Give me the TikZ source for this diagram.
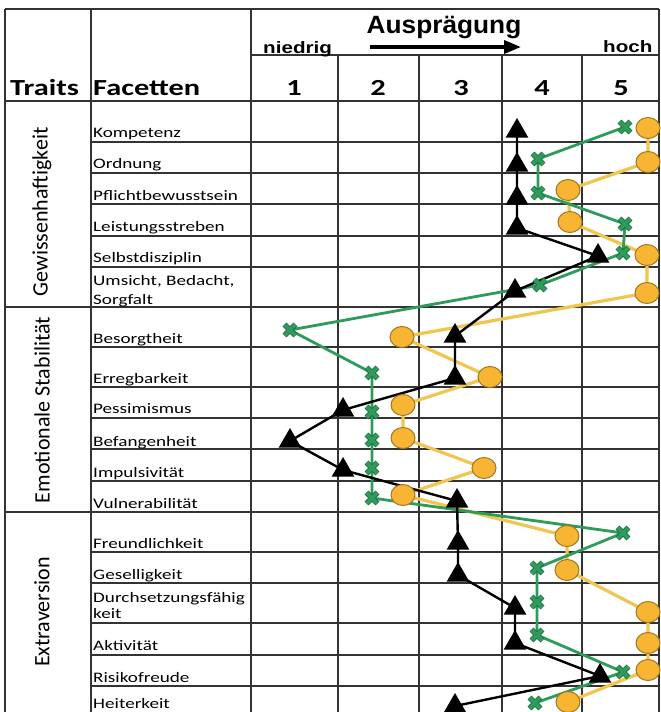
\documentclass[tikz,border=0pt]{standalone}
\usepackage{fontspec}
\setmainfont{Carlito}[FakeStretch=1.32]
\newfontfamily\traitfont{Carlito}
\newfontfamily\arialfont{Liberation Sans}[FakeStretch=1.25]
\newfontfamily\arialwide{Liberation Sans}[FakeStretch=1.05]
\usetikzlibrary{shapes.geometric,shapes.misc,arrows.meta}
\definecolor{gridgray}{HTML}{333333}
\definecolor{profgreen}{HTML}{2E9B5B}
\definecolor{profgreendark}{HTML}{1F6E40}
\definecolor{profyellow}{HTML}{F8B433}
\definecolor{profyellowline}{HTML}{F0C550}
\definecolor{profyellowdark}{HTML}{A07820}
\tikzset{
  gridline/.style={gridgray, line width=1.4pt},
  facet/.style={anchor=base west, inner sep=0pt, font=\fontsize{14.5}{17}\selectfont},
  trait/.style={rotate=90, inner sep=0pt, font=\traitfont\fontsize{22}{26}\selectfont},
  headtext/.style={inner sep=0pt, font=\bfseries\fontsize{23}{27}\selectfont},
  scaletext/.style={anchor=base west, inner sep=0pt, font=\arialfont\bfseries\fontsize{16.5}{19}\selectfont},
  tri/.style={regular polygon, regular polygon sides=3, fill=black, inner sep=0pt, minimum size=26pt},
  dot/.style={ellipse, draw=profyellowdark, fill=profyellow, line width=1pt, inner sep=0pt, minimum width=24pt, minimum height=21pt},
  xmark/.style={cross out, draw=profgreendark, double=profgreen, double distance=3.6pt, line width=0.9pt, inner sep=0pt, minimum size=10pt}
}
\begin{document}
\begin{tikzpicture}[x=1pt, y=-1pt]
  \useasboundingbox[fill=white] (0,0) rectangle (661,712);

  \draw[gridline] (5,9) -- (659,9);
  \draw[gridline] (251,55) -- (659,55);
  \draw[gridline] (5,101) -- (659,101);
  \draw[gridline] (5,307) -- (659,307);
  \draw[gridline] (5,512) -- (659,512);
  \foreach \y in {142,173,204,236,267,347,387,418,449,481,552,583,623,655,686}
    \draw[gridline] (91,\y) -- (659,\y);
  \foreach \x in {5,91,251,659}
    \draw[gridline] (\x,9) -- (\x,720);
  \foreach \x in {338,419,502,582}
    \draw[gridline] (\x,55) -- (\x,720);

  \node[headtext, anchor=base west] (traits) at (10,95) {Traits};
  \node[headtext, anchor=base west] (facetten) at (93,95) {Facetten};
  \foreach \x [count=\n] in {294,378,461,542,621}
    \node[headtext, anchor=base] (lvl\n) at (\x,95) {\n};
  \node[scaletext] (niedrig) at (263,53) {niedrig};
  \node[scaletext] (hoch) at (603,52) {hoch};
  \node[inner sep=0pt, anchor=base, font=\arialwide\bfseries\fontsize{25}{30}\selectfont] (auspraegung) at (444,33) {Ausprägung};
  \coordinate (arrowstart) at (370,47);
  \coordinate (arrowend) at (521,47);
  \draw[-{Triangle[length=17pt,width=13pt]}, line width=3.5pt] (arrowstart) -- (arrowend);

  \node[trait] (gewissen) at (42,212) {Gewissenhaftigkeit};
  \node[trait] (emostab) at (42,410) {Emotionale Stabilität};
  \node[trait] (extra) at (42,612) {Extraversion};

  \foreach \y/\t [count=\n] in {137/Kompetenz, 168/Ordnung, 200/Pflichtbewusstsein,
      231/Leistungsstreben, 262/Selbstdisziplin, 285/{Umsicht, Bedacht,}, 304/Sorgfalt,
      343/Besorgtheit, 383/Erregbarkeit, 413/Pessimismus, 446/Befangenheit,
      477/Impulsivität, 508/Vulnerabilität, 548/Freundlichkeit, 579/Geselligkeit,
      602/Durchsetzungsfähig, 618/keit, 650/Aktivität, 682/Risikofreude, 708/Heiterkeit}
    \node[facet] (f\n) at (93,\y) {\t};

  \foreach \x/\y [count=\n] in {648/128, 648/162, 568/190, 570/222, 647/255, 647/293,
      402/337, 490/377, 403/405, 403/438, 484/468, 403/495,
      567/536, 567/570, 648/612, 648/643, 648/670, 568/702}
    \coordinate (c\n) at (\x,\y);
  \foreach \x/\y [count=\n] in {625/127, 538/159, 538/193, 625/224, 623/253, 540/285,
      290/330, 372/373, 372/412, 372/440, 372/468, 372/498,
      623/533, 537/568, 537/602, 537/635, 623/672, 535/703}
    \coordinate (x\n) at (\x,\y);
  \foreach \x/\y [count=\n] in {517/131, 517/165, 517/198, 517/228, 598/256, 515/291,
      455/336, 455/378, 343/410, 290/441, 343/470, 457/501,
      458/543, 458/575, 515/608, 515/643, 600/676, 455/706}
    \coordinate (t\n) at (\x,\y);

  \draw[profyellowline, line width=3.2pt] (c1) \foreach \i in {2,...,18} {-- (c\i)};
  \draw[profgreen, line width=2.8pt] (x1) \foreach \i in {2,...,18} {-- (x\i)};
  \draw[black, line width=2.4pt] (t1) \foreach \i in {2,...,18} {-- (t\i)};

  \foreach \i in {1,...,18} {
    \node[dot] (cm\i) at (c\i) {};
    \node[xmark] (xm\i) at (x\i) {};
    \node[tri] (tm\i) at (t\i) {};
  }
\end{tikzpicture}
\end{document}
